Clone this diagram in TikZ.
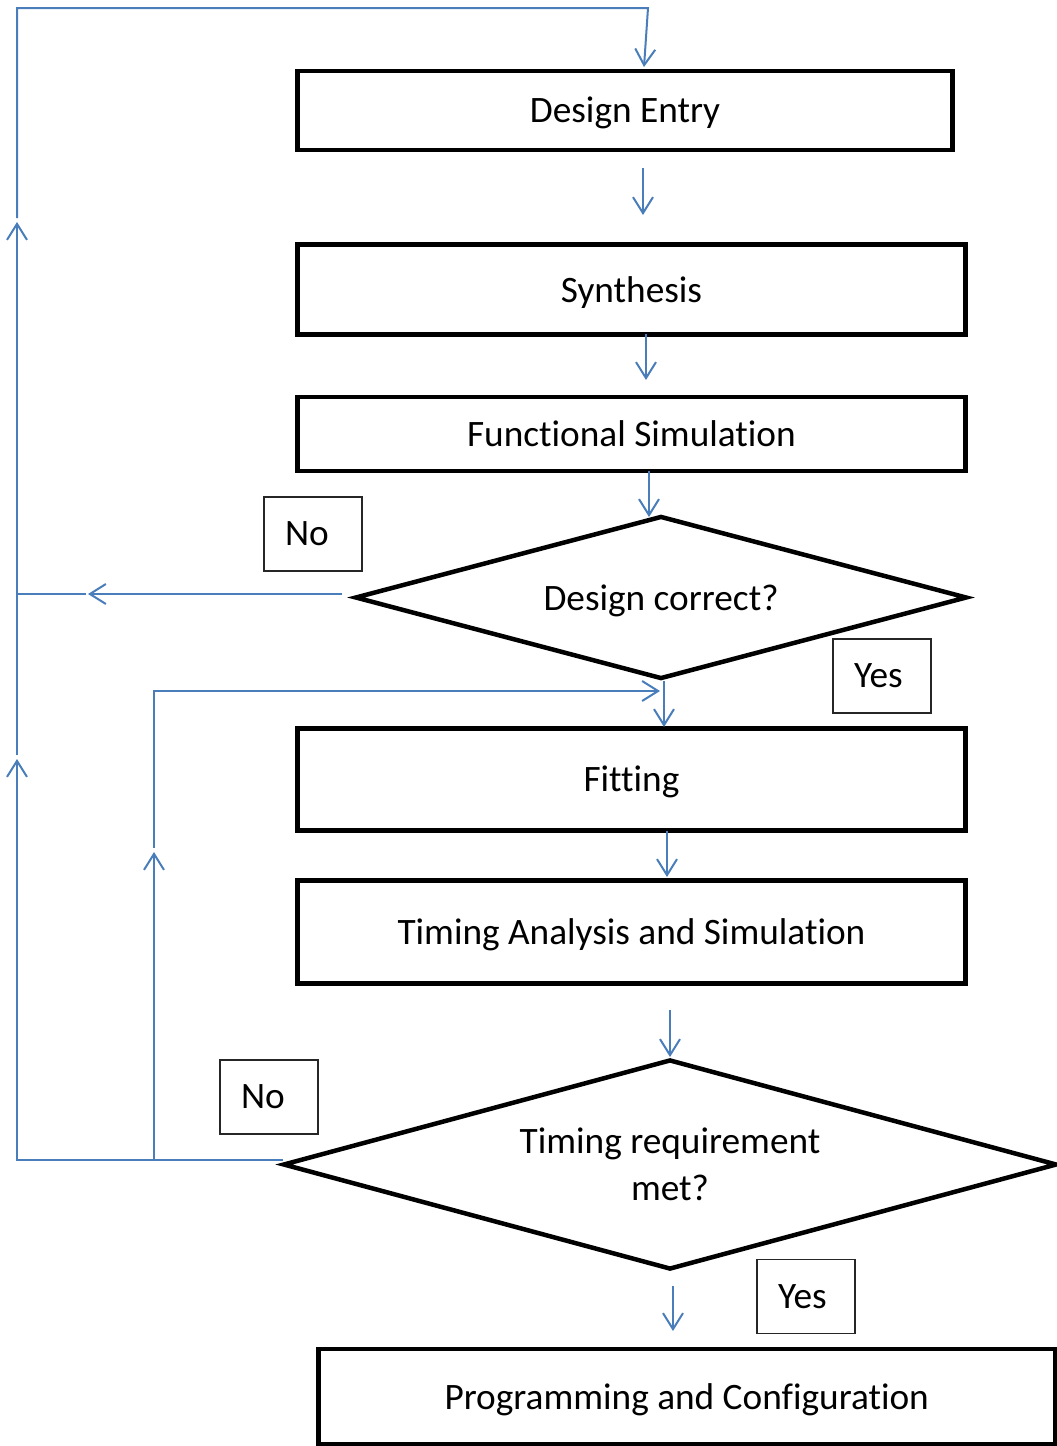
\documentclass[tikz,border=0pt]{standalone}
\usepackage{fontspec}
\setmainfont{Carlito}[Ligatures=NoCommon]
\usetikzlibrary{shapes.geometric,arrows.meta}

\definecolor{flowblue}{RGB}{74,126,187}

\begin{document}
\begin{tikzpicture}[x=1pt,y=-1pt,
  every node/.style={font=\fontsize{37.3}{47}\selectfont},
  stagebox/.style={draw=black, line width=4.5pt, rectangle, inner sep=0pt, align=center,
                   text height=25pt, text depth=0pt},
  decision/.style={draw=black, line width=4.5pt, diamond, inner sep=0pt, align=center},
  answer/.style={draw=black!85, line width=1.3pt, rectangle, inner xsep=21pt, inner ysep=0pt,
                 text width=56pt, minimum height=74pt, align=left},
  flow/.style={draw=flowblue, line width=2pt},
  barbed/.style={-{Straight Barb[length=16pt,width=20pt]}},
]
\useasboundingbox (0,0) rectangle (1057,1446);

% process steps and decisions
\node[stagebox, minimum width=655.4pt, minimum height=78.7pt] (entry) at (625,110.4) {Design Entry};
\node[stagebox, minimum width=668.4pt, minimum height=90pt] (synth) at (631.5,289.5) {Synthesis};
\node[stagebox, minimum width=668.4pt, minimum height=74pt] (funcsim) at (631.5,434) {Functional Simulation};
\node[decision, shape aspect=3.75, minimum width=612pt, minimum height=163pt,
      text height=25pt, text depth=0pt] (check1) at (661,597.5) {Design correct?};
\node[stagebox, minimum width=668.4pt, minimum height=102.2pt] (fit) at (631.5,779.4) {Fitting};
\node[stagebox, minimum width=668.4pt, minimum height=103pt] (timing) at (631.5,931.8) {Timing Analysis and Simulation};
\node[decision, shape aspect=3.69, minimum width=774pt, minimum height=210pt] (check2) at (670,1164.5) {Timing requirement\\met?};
\node[stagebox, minimum width=736.7pt, minimum height=95pt] (prog) at (686.7,1396.5) {Programming and Configuration};

% answer labels
\node[answer] (no1) at (313,534) {No};
\node[answer] (yes1) at (882,676) {Yes};
\node[answer] (no2) at (269,1097) {No};
\node[answer] (yes2) at (806,1296.5) {Yes};

% connector end points
\coordinate (a1s) at (643,168);  \coordinate (a1e) at (643,215);
\coordinate (a2s) at (646,334);  \coordinate (a2e) at (646,380);
\coordinate (a3s) at (649,471);  \coordinate (a3e) at (649,517);
\coordinate (a4s) at (664,681);  \coordinate (a4e) at (664,727);
\coordinate (a5s) at (667,831);  \coordinate (a5e) at (667,877);
\coordinate (a6s) at (670,1010); \coordinate (a6e) at (670,1057);
\coordinate (a7s) at (673,1286); \coordinate (a7e) at (673,1331);

\coordinate (d1out) at (342,594); \coordinate (d1tip) at (88,594);
\coordinate (d1tail) at (86,594); \coordinate (leftMid) at (17,594);

\coordinate (d2out) at (283,1159.5); \coordinate (leftBot) at (17,1159.5);
\coordinate (leftUp1) at (17,759);   \coordinate (leftUp1s) at (17,755);
\coordinate (leftUp2) at (17,222);   \coordinate (leftUp2s) at (17,218);
\coordinate (topL) at (17,8); \coordinate (topR) at (648,8); \coordinate (entryIn) at (644,67);

\coordinate (midBot) at (154,1159.5);
\coordinate (midUp) at (154,852); \coordinate (midUps) at (154,848);
\coordinate (midTop) at (154,691); \coordinate (fitIn) at (660,691);

% forward flow
\draw[flow,barbed] (a1s) -- (a1e);
\draw[flow,barbed] (a2s) -- (a2e);
\draw[flow,barbed] (a3s) -- (a3e);
\draw[flow,barbed] (a4s) -- (a4e);
\draw[flow,barbed] (a5s) -- (a5e);
\draw[flow,barbed] (a6s) -- (a6e);
\draw[flow,barbed] (a7s) -- (a7e);

% "No" branch of the first decision
\draw[flow,barbed] (d1out) -- (d1tip);
\draw[flow] (d1tail) -- (leftMid);

% outer feedback loop back to design entry
\draw[flow,barbed] (d2out) -- (leftBot) -- (leftUp1);
\draw[flow,barbed] (leftUp1s) -- (leftUp2);
\draw[flow,barbed] (leftUp2s) -- (topL) -- (topR) -- (entryIn);

% inner feedback loop back to fitting
\draw[flow,barbed] (midBot) -- (midUp);
\draw[flow,barbed] (midUps) -- (midTop) -- (fitIn);
\end{tikzpicture}
\end{document}
